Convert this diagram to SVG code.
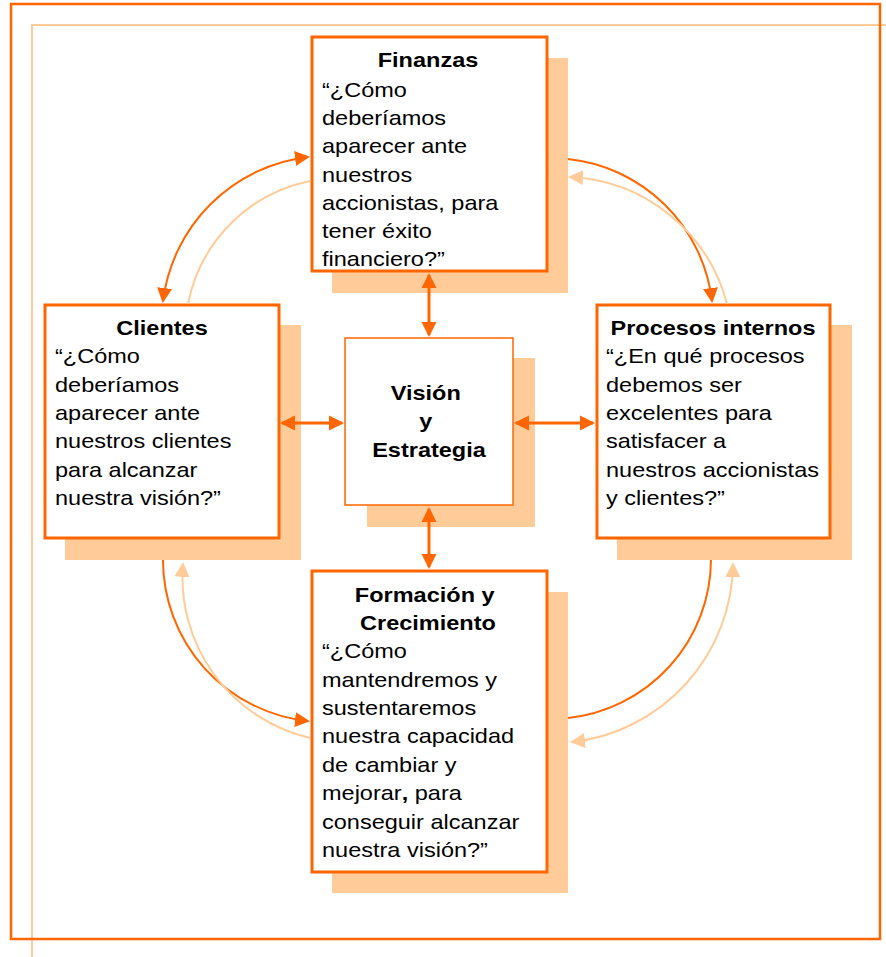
<svg xmlns="http://www.w3.org/2000/svg" width="886" height="957" viewBox="0 0 886 957">
  <style>
    .frame { fill: none; stroke: #FF6600; stroke-width: 2.5; }
    .frame-light { fill: none; stroke: #FFCC99; stroke-width: 2; }
    .shadow { fill: #FFCC99; }
    .box { fill: #FFFFFF; stroke: #FF6600; stroke-width: 3; }
    .core { fill: #FFFFFF; stroke: #FF6600; stroke-width: 1.5; }
    .title { font-family: "Liberation Sans", Arial, sans-serif; font-size: 21px; font-weight: bold; fill: #000000; text-anchor: middle; }
    .body { font-family: "Liberation Sans", Arial, sans-serif; font-size: 21px; fill: #000000; }
    .link { fill: none; stroke: #FF6600; stroke-width: 3; }
    .arc { fill: none; stroke: #FF6600; stroke-width: 2; }
    .arc-light { fill: none; stroke: #FFCC99; stroke-width: 2; }
  </style>
  <defs>
    <marker id="head" markerUnits="userSpaceOnUse" markerWidth="16" markerHeight="16" refX="13" refY="7.5" orient="auto-start-reverse" viewBox="0 0 16 15">
      <path d="M0,0 L15,7.5 L0,15 Z" fill="#FF6600"/>
    </marker>
    <marker id="head-light" markerUnits="userSpaceOnUse" markerWidth="16" markerHeight="16" refX="13" refY="7.5" orient="auto-start-reverse" viewBox="0 0 16 15">
      <path d="M0,0 L15,7.5 L0,15 Z" fill="#FFCC99"/>
    </marker>
  </defs>

  <!-- page frames -->
  <g id="frame">
    <polyline class="frame-light" points="32,957 32,25 886,25"/>
    <rect class="frame" x="11" y="4" width="869" height="935"/>
  </g>

  <!-- Finanzas -->
  <g id="finanzas">
    <rect class="shadow" x="332" y="58" width="236" height="235"/>
    <rect class="box" x="312" y="37" width="235" height="234"/>
    <text class="title" transform="translate(428 0) scale(1.12 1)"><tspan x="0" y="67">Finanzas</tspan></text>
    <text class="body" transform="translate(322 0) scale(1.12 1)">
      <tspan x="0" y="97">“¿Cómo</tspan>
      <tspan x="0" y="125">deberíamos</tspan>
      <tspan x="0" y="153">aparecer ante</tspan>
      <tspan x="0" y="182">nuestros</tspan>
      <tspan x="0" y="210">accionistas, para</tspan>
      <tspan x="0" y="238">tener éxito</tspan>
      <tspan x="0" y="266">financiero?”</tspan>
    </text>
  </g>

  <!-- Clientes -->
  <g id="clientes">
    <rect class="shadow" x="65" y="325" width="236" height="235"/>
    <rect class="box" x="45" y="305" width="234" height="233"/>
    <text class="title" transform="translate(162 0) scale(1.12 1)"><tspan x="0" y="335">Clientes</tspan></text>
    <text class="body" transform="translate(55 0) scale(1.12 1)">
      <tspan x="0" y="363">“¿Cómo</tspan>
      <tspan x="0" y="392">deberíamos</tspan>
      <tspan x="0" y="420">aparecer ante</tspan>
      <tspan x="0" y="448">nuestros clientes</tspan>
      <tspan x="0" y="477">para alcanzar</tspan>
      <tspan x="0" y="505">nuestra visión?”</tspan>
    </text>
  </g>

  <!-- Procesos internos -->
  <g id="procesos">
    <rect class="shadow" x="617" y="325" width="235" height="235"/>
    <rect class="box" x="597" y="305" width="233" height="233"/>
    <text class="title" transform="translate(713 0) scale(1.12 1)"><tspan x="0" y="335">Procesos internos</tspan></text>
    <text class="body" transform="translate(606 0) scale(1.12 1)">
      <tspan x="0" y="363">“¿En qué procesos</tspan>
      <tspan x="0" y="392">debemos ser</tspan>
      <tspan x="0" y="420">excelentes para</tspan>
      <tspan x="0" y="448">satisfacer a</tspan>
      <tspan x="0" y="477">nuestros accionistas</tspan>
      <tspan x="0" y="505">y clientes?”</tspan>
    </text>
  </g>

  <!-- Visión y Estrategia -->
  <g id="vision">
    <rect class="shadow" x="367" y="358" width="168" height="169"/>
    <rect class="core" x="345" y="338" width="168" height="167"/>
    <text class="title" transform="translate(429 0) scale(1.12 1)">
      <tspan x="0" y="400">Visión</tspan>
      <tspan x="0" y="428">y</tspan>
      <tspan x="0" y="457">Estrategia</tspan>
    </text>
  </g>

  <!-- Formación y Crecimiento -->
  <g id="formacion">
    <rect class="shadow" x="332" y="592" width="236" height="301"/>
    <rect class="box" x="312" y="571" width="235" height="301"/>
    <text class="title" transform="translate(428 0) scale(1.12 1)">
      <tspan x="0" y="602">Formación y</tspan>
      <tspan x="0" y="630">Crecimiento</tspan>
    </text>
    <text class="body" transform="translate(322 0) scale(1.12 1)">
      <tspan x="0" y="658">“¿Cómo</tspan>
      <tspan x="0" y="687">mantendremos y</tspan>
      <tspan x="0" y="715">sustentaremos</tspan>
      <tspan x="0" y="743">nuestra capacidad</tspan>
      <tspan x="0" y="772">de cambiar y</tspan>
      <tspan x="0" y="800">mejorar<tspan font-weight="bold">,</tspan> para</tspan>
      <tspan x="0" y="829">conseguir alcanzar</tspan>
      <tspan x="0" y="857">nuestra visión?”</tspan>
    </text>
  </g>

  <!-- connectors -->
  <g id="connectors">
    <!-- straight two-way links to the centre -->
    <line class="link" x1="429" y1="275" x2="429" y2="335" marker-start="url(#head)" marker-end="url(#head)"/>
    <line class="link" x1="429" y1="509" x2="429" y2="567" marker-start="url(#head)" marker-end="url(#head)"/>
    <line class="link" x1="282" y1="423" x2="342" y2="423" marker-start="url(#head)" marker-end="url(#head)"/>
    <line class="link" x1="516" y1="423" x2="593" y2="423" marker-start="url(#head)" marker-end="url(#head)"/>

    <!-- outer cycle, strong arcs -->
    <path class="arc" d="M163,301 A166,166 0 0 1 308,157" marker-start="url(#head)" marker-end="url(#head)"/>
    <path class="arc" d="M568,159 A162,162 0 0 1 712,301" marker-end="url(#head)"/>
    <path class="arc" d="M163,560 A162,162 0 0 0 308,721" marker-end="url(#head)"/>
    <path class="arc" d="M711,560 A160,160 0 0 1 568,718"/>

    <!-- outer cycle, light arcs -->
    <path class="arc-light" d="M188,304 A156,156 0 0 1 310,181"/>
    <path class="arc-light" d="M727,304 A170,170 0 0 0 570,177" marker-end="url(#head-light)"/>
    <path class="arc-light" d="M310,738 A165,165 0 0 1 183,564" marker-end="url(#head-light)"/>
    <path class="arc-light" d="M733,564 A181,181 0 0 1 572,742" marker-start="url(#head-light)" marker-end="url(#head-light)"/>
  </g>
</svg>
